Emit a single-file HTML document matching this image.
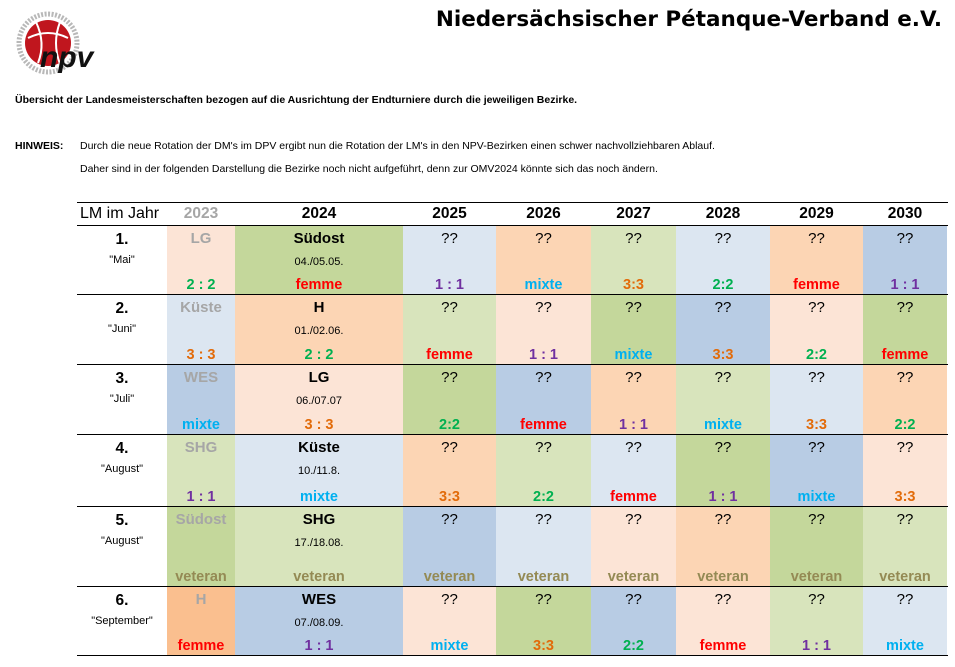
<!DOCTYPE html>
<html><head><meta charset="utf-8"><style>
body{margin:0;width:955px;height:667px;background:#fff;position:relative;overflow:hidden;font-family:"Liberation Sans",sans-serif;}
.a{position:absolute;white-space:nowrap;}
.c{position:absolute;}
.t{position:absolute;left:0;right:0;text-align:center;font-weight:bold;font-size:14.5px;}
.hl{position:absolute;left:77px;width:871px;height:0;border-top:1.5px solid #000;}
</style></head><body>
<svg class="a" style="left:14px;top:8px" width="90" height="70" viewBox="0 0 90 70">
<circle cx="34" cy="35" r="23" fill="#c0161e"/>
<path d="M14 30 Q34 20 54 30" stroke="#fff" stroke-width="2" fill="none"/>
<path d="M22 14 Q32 35 24 55" stroke="#fff" stroke-width="2" fill="none"/>
<path d="M46 14 Q38 35 46 56" stroke="#fff" stroke-width="2" fill="none"/>
<circle cx="34" cy="35" r="29" stroke="#888" stroke-width="5" fill="none" stroke-dasharray="2 1.5" opacity="0.6"/>
<text x="26" y="59" font-family="Liberation Sans" font-weight="bold" font-style="italic" font-size="30" fill="#111">npv</text>
</svg>
<div class="a" style="right:13px;top:7px;font-family:'DejaVu Sans',sans-serif;font-weight:bold;font-size:21.5px;">Niedersächsischer Pétanque-Verband e.V.</div>
<div class="a" style="left:15px;top:94px;font-size:10.5px;font-weight:bold;">Übersicht der Landesmeisterschaften bezogen auf die Ausrichtung der Endturniere durch die jeweiligen Bezirke.</div>
<div class="a" style="left:15px;top:140px;font-size:10.5px;font-weight:bold;">HINWEIS:</div>
<div class="a" style="left:80px;top:140px;font-size:10.5px;">Durch die neue Rotation der DM's im DPV ergibt nun die Rotation der LM's in den NPV-Bezirken einen schwer nachvollziehbaren Ablauf.</div>
<div class="a" style="left:80px;top:163px;font-size:10.5px;">Daher sind in der folgenden Darstellung die Bezirke noch nicht aufgeführt, denn zur OMV2024 könnte sich das noch ändern.</div>
<div id="tbl"></div>
<script>
const cols=[167,235,403,496,591,676,770,863,947];
const rows=[226,295,365,435,507,587,656];
const K={A:"#FCE4D6",B:"#FCD5B4",C:"#C4D79B",D:"#D8E4BC",E:"#DCE6F1",F:"#B8CCE4",G:"#FABF8F"};
const col={r:"#ff0000",g:"#00b050",p:"#7030a0",o:"#e26b0a",b:"#00b0f0",v:"#948a54"};
const fills=["ACEBDEBF","EBDACFAC","FACFBDEB","DEBDECFA","CDFEABCD","GFACFADE"];
const heads=[["LG","Südost","04./05.05."],["Küste","H","01./02.06."],["WES","LG","06./07.07"],["SHG","Küste","10./11.8."],["Südost","SHG","17./18.08."],["H","WES","07./08.09."]];
const bots=[["2 : 2g","femmer","1 : 1p","mixteb","3:3o","2:2g","femmer","1 : 1p"],
["3 : 3o","2 : 2g","femmer","1 : 1p","mixteb","3:3o","2:2g","femmer"],
["mixteb","3 : 3o","2:2g","femmer","1 : 1p","mixteb","3:3o","2:2g"],
["1 : 1p","mixteb","3:3o","2:2g","femmer","1 : 1p","mixteb","3:3o"],
["veteranv","veteranv","veteranv","veteranv","veteranv","veteranv","veteranv","veteranv"],
["femmer","1 : 1p","mixteb","3:3o","2:2g","femmer","1 : 1p","mixteb"]];
const labs=[["1.","\"Mai\""],["2.","\"Juni\""],["3.","\"Juli\""],["4.","\"August\""],["5.","\"August\""],["6.","\"September\""]];
let h="";
h+=`<div class="hl" style="top:202px"></div>`;
h+=`<div class="a" style="left:80px;top:205px;font-size:16px">LM im Jahr</div>`;
const yrs=["2023","2024","2025","2026","2027","2028","2029","2030"];
yrs.forEach((y,i)=>{h+=`<div class="c" style="left:${cols[i]}px;width:${cols[i+1]-cols[i]}px;top:205px"><div class="t" style="font-size:15.5px;color:${i==0?'#a6a6a6':'#000'}">${y}</div></div>`;});
for(let r=0;r<6;r++){
 const y0=rows[r],y1=rows[r+1],hh=y1-y0;
 h+=`<div class="c" style="left:77px;width:90px;top:${y0}px;height:${hh}px"><div class="t" style="top:5px;font-size:15.5px">${labs[r][0]}</div><div class="t" style="top:28px;font-size:11px;font-weight:normal">${labs[r][1]}</div></div>`;
 for(let c=0;c<8;c++){
  const b=bots[r][c];const txt=b.slice(0,-1),cc=col[b.slice(-1)];
  let top="??",tc="#000",tw="normal",mid="";
  if(c==0){top=heads[r][0];tc="#a6a6a6";tw="bold";}
  else if(c==1){top=heads[r][1];tw="bold";mid=heads[r][2];}
  h+=`<div class="c" style="left:${cols[c]}px;width:${cols[c+1]-cols[c]}px;top:${y0}px;height:${hh}px;background:${K[fills[r][c]]}">
  <div class="t" style="top:4px;font-size:15px;color:${tc};font-weight:${tw}">${top}</div>
  ${mid?`<div class="t" style="top:30px;font-size:11px;font-weight:normal">${mid}</div>`:""}
  <div class="t" style="bottom:2px;color:${cc}">${txt}</div></div>`;
 }
 h+=`<div class="hl" style="top:${y1-1}px"></div>`;
}
h+=`<div class="hl" style="top:225px"></div>`;
document.getElementById("tbl").innerHTML=h;
</script>
</body></html>
